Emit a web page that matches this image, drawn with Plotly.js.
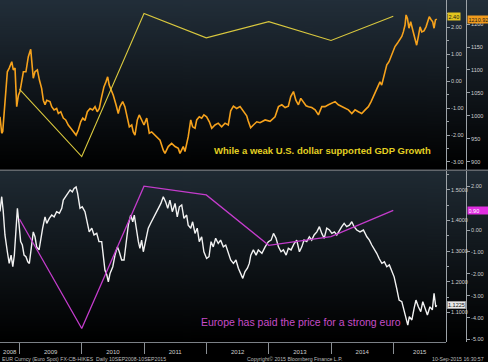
<!DOCTYPE html>
<html>
<head>
<meta charset="utf-8">
<script src="https://cdn.plot.ly/plotly-3.0.1.min.js"></script>
<style>html,body{margin:0;padding:0;background:#000;}#chart{width:488px;height:362px;}</style>
</head>
<body>
<div id="chart"></div>
<script>
// ---------- DATA ----------
// Bloomberg Dollar Spot Index (orange, top panel), time as decimal years
const dollarT = [2008.687,2008.714,2008.730,2008.767,2008.804,2008.836,2008.875,2008.900,2008.928,2008.955,
2008.981,2009.008,2009.035,2009.061,2009.104,2009.141,2009.180,2009.205,2009.221,2009.249,
2009.286,2009.318,2009.356,2009.382,2009.409,2009.437,2009.490,2009.517,2009.554,2009.597,
2009.623,2009.661,2009.703,2009.742,2009.783,2009.822,2009.864,2009.907,2009.944,2009.982,
2010.014,2010.051,2010.088,2010.132,2010.175,2010.212,2010.249,2010.281,2010.319,2010.356,
2010.388,2010.416,2010.441,2010.469,2010.506,2010.549,2010.586,2010.613,2010.657,2010.693,
2010.721,2010.762,2010.801,2010.827,2010.854,2010.891,2010.923,2010.961,2010.998,2011.042,
2011.083,2011.122,2011.202,2011.255,2011.308,2011.335,2011.388,2011.443,2011.496,2011.549,
2011.576,2011.629,2011.656,2011.709,2011.748,2011.780,2011.817,2011.844,2011.886,2011.925,
2011.961,2012.005,2012.047,2012.085,2012.138,2012.191,2012.245,2012.298,2012.351,2012.390,
2012.432,2012.486,2012.539,2012.592,2012.647,2012.668,2012.708,2012.753,2012.807,2012.860,
2012.940,2013.021,2013.101,2013.154,2013.209,2013.262,2013.315,2013.353,2013.395,2013.433,
2013.475,2013.513,2013.555,2013.599,2013.636,2013.690,2013.743,2013.796,2013.851,2013.904,
2013.957,2014.011,2014.064,2014.117,2014.172,2014.225,2014.278,2014.332,2014.385,2014.438,
2014.493,2014.546,2014.599,2014.642,2014.679,2014.722,2014.759,2014.786,2014.813,2014.851,
2014.894,2014.931,2014.974,2015.027,2015.064,2015.096,2015.135,2015.160,2015.188,2015.204,
2015.225,2015.252,2015.279,2015.311,2015.348,2015.375,2015.401,2015.428,2015.455,2015.492,
2015.524,2015.552,2015.578,2015.605,2015.632,2015.653,2015.674,2015.696];
const dollarV = [998,962,966,1034,1096,1104,1118,1100,1104,1020,
1045,1053,1078,1096,1096,1129,1145,1115,1082,1096,
1100,1078,1060,1034,1024,1034,1031,1020,1013,1016,
1005,1009,995,991,980,973,965,958,969,987,
995,990,1009,1016,1013,1020,1009,1016,1042,1063,
1074,1085,1067,1056,1045,1024,1005,1020,1031,1020,
1002,976,980,965,958,991,1002,991,980,995,
962,965,954,947,925,918,933,940,933,929,
918,933,922,954,991,976,973,991,998,995,
1002,998,987,973,980,984,976,984,980,1011,
1021,1016,1020,1009,1000,990,974,980,987,985,
991,988,998,1020,1024,1018,1021,1042,1053,1034,
1024,1038,1031,1022,1020,1018,1013,1002,1020,1020,
1024,1027,1031,1024,1020,1016,1013,1005,1013,1009,
1005,1013,1020,1031,1042,1056,1067,1074,1067,1089,
1111,1118,1133,1151,1158,1165,1173,1183,1198,1220,
1212,1191,1205,1187,1165,1154,1173,1194,1183,1185,
1194,1209,1216,1210,1205,1191,1209,1210.92];

// EUR/USD spot (white, bottom panel)
const eurT = [2008.687,2008.714,2008.740,2008.767,2008.804,2008.836,2008.864,2008.891,2008.917,2008.944,
2008.965,2008.992,2009.019,2009.045,2009.072,2009.104,2009.132,2009.157,2009.196,2009.221,
2009.249,2009.276,2009.313,2009.340,2009.372,2009.409,2009.437,2009.478,2009.517,2009.554,
2009.597,2009.639,2009.677,2009.703,2009.742,2009.774,2009.811,2009.847,2009.875,2009.907,
2009.934,2009.971,2010.008,2010.051,2010.088,2010.120,2010.159,2010.196,2010.239,2010.276,
2010.319,2010.345,2010.372,2010.400,2010.425,2010.453,2010.496,2010.533,2010.570,2010.602,
2010.640,2010.677,2010.709,2010.746,2010.785,2010.817,2010.843,2010.870,2010.907,2010.934,
2010.961,2010.987,2011.026,2011.067,2011.106,2011.148,2011.191,2011.228,2011.271,2011.308,
2011.347,2011.379,2011.416,2011.453,2011.496,2011.533,2011.565,2011.604,2011.640,2011.684,
2011.709,2011.748,2011.780,2011.817,2011.854,2011.886,2011.925,2011.961,2012.005,2012.042,
2012.074,2012.111,2012.149,2012.191,2012.229,2012.271,2012.310,2012.351,2012.390,2012.432,
2012.475,2012.512,2012.550,2012.583,2012.619,2012.656,2012.688,2012.711,2012.753,2012.796,
2012.833,2012.888,2012.940,2012.994,2013.037,2013.074,2013.117,2013.154,2013.197,2013.234,
2013.278,2013.315,2013.358,2013.406,2013.449,2013.491,2013.530,2013.567,2013.610,2013.652,
2013.690,2013.727,2013.770,2013.812,2013.851,2013.888,2013.931,2013.973,2014.011,2014.053,
2014.091,2014.133,2014.172,2014.209,2014.252,2014.294,2014.332,2014.369,2014.412,2014.465,
2014.518,2014.573,2014.615,2014.653,2014.690,2014.733,2014.770,2014.814,2014.856,2014.894,
2014.936,2014.974,2015.011,2015.054,2015.091,2015.135,2015.171,2015.204,2015.231,2015.257,
2015.296,2015.333,2015.364,2015.401,2015.440,2015.472,2015.509,2015.546,2015.589,2015.626,
2015.653,2015.680,2015.696];
const eurV = [1.43,1.478,1.43,1.353,1.298,1.26,1.287,1.249,1.287,1.385,
1.44,1.385,1.331,1.32,1.287,1.282,1.265,1.26,1.314,1.363,
1.347,1.314,1.304,1.342,1.375,1.412,1.391,1.407,1.418,1.412,
1.429,1.424,1.44,1.467,1.478,1.489,1.50,1.494,1.505,1.51,
1.489,1.44,1.445,1.429,1.385,1.363,1.375,1.353,1.358,1.331,
1.331,1.276,1.238,1.222,1.20,1.227,1.249,1.287,1.314,1.298,
1.271,1.271,1.331,1.385,1.418,1.396,1.418,1.375,1.331,1.309,
1.336,1.298,1.331,1.375,1.391,1.407,1.424,1.44,1.456,1.478,
1.461,1.44,1.467,1.429,1.456,1.412,1.445,1.451,1.407,1.418,
1.385,1.375,1.396,1.358,1.375,1.331,1.347,1.298,1.276,1.282,
1.331,1.314,1.342,1.325,1.336,1.314,1.32,1.293,1.271,1.26,
1.271,1.244,1.227,1.211,1.233,1.244,1.26,1.287,1.304,1.287,
1.304,1.293,1.314,1.331,1.336,1.358,1.342,1.314,1.298,1.304,
1.287,1.309,1.304,1.325,1.336,1.298,1.314,1.336,1.331,1.347,
1.336,1.353,1.363,1.38,1.358,1.342,1.375,1.369,1.358,1.363,
1.353,1.369,1.38,1.391,1.38,1.385,1.396,1.38,1.369,1.363,
1.369,1.347,1.336,1.32,1.309,1.293,1.276,1.26,1.265,1.249,
1.255,1.233,1.216,1.178,1.14,1.135,1.108,1.08,1.058,1.086,
1.075,1.113,1.14,1.118,1.102,1.135,1.113,1.091,1.118,1.108,
1.162,1.118,1.1225];

// Annual GDP growth (%), plotted at year end
const gdpDates = ['2008-12-31','2009-12-31','2010-12-31','2011-12-31','2012-12-31','2013-12-31','2014-12-31'];
const usGdp = [-0.3,-2.8,2.5,1.6,2.2,1.5,2.4];
const ezGdp = [0.5,-4.5,2.0,1.6,-0.7,-0.3,0.9];

// Tick labels
const yearLabels = ['2008','2009','2010','2011','2012','2013','2014','2015'];
const dollarTicks = [900,950,1000,1050,1100,1150,1200];
const usGdpTicks = [-3,-2,-1,0,1,2];
const eurTicks = [1.1,1.2,1.3,1.4,1.5];
const ezGdpTicks = [-5,-4,-3,-2,-1,0,2];

// Texts
const topCaption = 'While a weak U.S. dollar supported GDP Growth';
const bottomCaption = 'Europe has paid the price for a strong euro';
const footLeft = 'EUR Curncy (Euro Spot) FX-CB-HIKES  Daily 10SEP2008-10SEP2015';
const footMid = 'Copyright\u00A9 2015 Bloomberg Finance L.P.';
const footRight = '10-Sep-2015 16:30:57';

// ---------- helpers ----------
function toDate(y){
  const yr = Math.floor(y);
  const a = Date.UTC(yr,0,1), b = Date.UTC(yr+1,0,1);
  return new Date(a + (y-yr)*(b-a)).toISOString().slice(0,10);
}
function gradient(top, bottom){
  const c = document.createElement('canvas'); c.width = 4; c.height = 256;
  const g = c.getContext('2d'); const gr = g.createLinearGradient(0,0,0,256);
  gr.addColorStop(0, top); gr.addColorStop(1, bottom);
  g.fillStyle = gr; g.fillRect(0,0,4,256); return c.toDataURL('image/png');
}

const FONT = 'Liberation Sans, Arial, sans-serif';
const xRange = ['2008-09-08','2015-11-05'];
const startMs = Date.parse(xRange[0]), endMs = Date.parse(xRange[1]);
const labelPos = yearLabels.map(s => {
  const y = +s; const a = Math.max(Date.UTC(y,0,1), startMs), b = Math.min(Date.UTC(y+1,0,1), endMs);
  return new Date((a+b)/2).toISOString().slice(0,10);
});
const yearStarts = yearLabels.slice(1).map(s => s + '-01-01');
const quarters = [];
yearLabels.forEach(s => ['-04-01','-07-01','-10-01'].forEach(m => {
  const d = s + m; if (Date.parse(d) > startMs && Date.parse(d) < endMs) quarters.push(d);
}));

const W = 488, H = 362, PR = 466, INNER = 446, PB = 342;
const xDom = [0, INNER/PR];
const topDom = [(PB-169.5)/PB, 1];
const botDom = [0, (PB-171)/PB];

const tickFont = {family: FONT, size: 5.5, color: '#d2d2d2'};
const axisLine = '#9da3a8';

const traces = [
  {x: dollarT.map(toDate), y: dollarV, xaxis:'x', yaxis:'y', mode:'lines',
   line:{color:'#f6a21c', width:1.6}, hoverinfo:'skip'},
  {x: gdpDates, y: usGdp, xaxis:'x', yaxis:'y2', mode:'lines',
   line:{color:'#d8c73e', width:1.1}, hoverinfo:'skip'},
  {x: eurT.map(toDate), y: eurV, xaxis:'x2', yaxis:'y3', mode:'lines',
   line:{color:'#f2f2f2', width:1.4}, hoverinfo:'skip'},
  {x: gdpDates, y: ezGdp, xaxis:'x2', yaxis:'y4', mode:'lines',
   line:{color:'#c43ccc', width:1.3}, hoverinfo:'skip'}
];

function yAx(extra){
  return Object.assign({
    side:'right', anchor:'free', showgrid:false, zeroline:false, showline:true,
    linecolor:axisLine, linewidth:1, ticks:'outside', ticklen:3, tickwidth:1,
    tickcolor:axisLine, tickfont:tickFont, tickmode:'array', fixedrange:true
  }, extra);
}

const layout = {
  width:W, height:H, margin:{l:0, r:W-PR, t:0, b:H-PB, pad:0},
  paper_bgcolor:'#000', plot_bgcolor:'rgba(0,0,0,0)', showlegend:false,
  font:{family:FONT, color:'#d2d2d2'},
  xaxis:{domain:xDom, anchor:'y', type:'date', range:xRange, visible:false, fixedrange:true},
  xaxis2:{domain:xDom, anchor:'y3', type:'date', range:xRange, tickmode:'array',
    tickvals:labelPos, ticktext:yearLabels, ticks:'', showgrid:false, zeroline:false,
    showline:true, linecolor:'#7b8086', linewidth:1, tickfont:{family:FONT, size:6, color:'#cfcfcf'},
    ticklabelstandoff:4, fixedrange:true,
    minor:{tickmode:'array', tickvals:yearStarts, ticks:'outside', ticklen:11, tickwidth:1, tickcolor:'#8b9095', showgrid:false}},
  xaxis3:{overlaying:'x2', anchor:'y3', type:'date', range:xRange, tickmode:'array',
    tickvals:quarters, ticks:'outside', ticklen:3, tickwidth:1, tickcolor:'#8b9095',
    showticklabels:false, showgrid:false, zeroline:false, showline:false, fixedrange:true},
  yaxis: yAx({domain:topDom, position:1, range:[883,1252.5],
    tickvals:dollarTicks, ticktext:dollarTicks.map(String)}),
  yaxis2: yAx({overlaying:'y', position:xDom[1], range:[-3.278,3.0],
    tickvals:usGdpTicks, ticktext:usGdpTicks.map(v=>v.toFixed(2)),
    minor:{tickmode:'array', tickvals:usGdpTicks.map(v=>v+0.5), ticks:'outside', ticklen:2, tickcolor:axisLine}}),
  yaxis3: yAx({domain:botDom, position:xDom[1], range:[1.003,1.562],
    tickvals:eurTicks, ticktext:eurTicks.map(v=>v.toFixed(4)),
    minor:{tickmode:'array', tickvals:eurTicks.map(v=>+(v+0.05).toFixed(2)), ticks:'outside', ticklen:2, tickcolor:axisLine}}),
  yaxis4: yAx({overlaying:'y3', position:1, range:[-5.114,2.694],
    tickvals:ezGdpTicks, ticktext:ezGdpTicks.map(v=>v.toFixed(2))}),
  images:[
    {source:gradient('#222e39','#000000'), xref:'paper', yref:'paper', x:0, y:1,
     sizex:W/PR, sizey:topDom[1]-topDom[0], xanchor:'left', yanchor:'top', sizing:'stretch', layer:'below'},
    {source:gradient('#1f2a33','#000000'), xref:'paper', yref:'paper', x:0, y:botDom[1],
     sizex:W/PR, sizey:botDom[1]-botDom[0], xanchor:'left', yanchor:'top', sizing:'stretch', layer:'below'}
  ],
  shapes:[
    {type:'rect', xref:'paper', yref:'paper', x0:0, x1:W/PR, y0:botDom[1], y1:topDom[0],
     fillcolor:'#62676c', line:{width:0}, layer:'below'}
  ],
  annotations:[
    {xref:'paper', yref:'paper', x:322/PR, xanchor:'center', y:1-150/PB, yanchor:'middle',
     text:'<b>'+topCaption+'</b>', showarrow:false,
     font:{family:FONT, size:9.5, color:'#e2cf22'}},
    {xref:'paper', yref:'paper', x:301/PR, xanchor:'center', y:1-322/PB, yanchor:'middle',
     text:bottomCaption, showarrow:false,
     font:{family:FONT, size:10.5, color:'#c64cc8'}},
    {xref:'paper', yref:'y2', x:xDom[1], xanchor:'left', xshift:1, y:usGdp[usGdp.length-1], yanchor:'middle',
     text:usGdp[usGdp.length-1].toFixed(2), showarrow:false, bgcolor:'#e2c41e', borderpad:0.5,
     font:{family:FONT, size:5.5, color:'#1a1a1a'}},
    {xref:'paper', yref:'y', x:1, xanchor:'left', xshift:0.5, y:dollarV[dollarV.length-1], yanchor:'middle',
     text:dollarV[dollarV.length-1].toFixed(2), showarrow:false, bgcolor:'#f09a1c', borderpad:0.5,
     font:{family:FONT, size:5.5, color:'#1a1a1a'}},
    {xref:'paper', yref:'y4', x:1, xanchor:'left', xshift:0.5, y:ezGdp[ezGdp.length-1], yanchor:'middle',
     text:ezGdp[ezGdp.length-1].toFixed(2), showarrow:false, bgcolor:'#e02ee0', borderpad:0.5, width:20,
     align:'left', font:{family:FONT, size:5.5, color:'#ffffff'}},
    {xref:'paper', yref:'y3', x:xDom[1], xanchor:'left', xshift:1, y:eurV[eurV.length-1], yanchor:'middle',
     text:eurV[eurV.length-1].toFixed(4), showarrow:false, bgcolor:'#e9e9e9', bordercolor:'#8a8a8a',
     borderwidth:0.5, borderpad:0.5, font:{family:FONT, size:5.5, color:'#111'}},
    {xref:'paper', yref:'paper', x:0, xanchor:'left', y:(PB-358.5)/PB, yanchor:'middle',
     text:footLeft, showarrow:false, font:{family:FONT, size:5.2, color:'#bdbdbd'}},
    {xref:'paper', yref:'paper', x:294/PR, xanchor:'center', y:(PB-358.5)/PB, yanchor:'middle',
     text:footMid, showarrow:false, font:{family:FONT, size:5.2, color:'#bdbdbd'}},
    {xref:'paper', yref:'paper', x:486/PR, xanchor:'right', y:(PB-358.5)/PB, yanchor:'middle',
     text:footRight, showarrow:false, font:{family:FONT, size:5.2, color:'#bdbdbd'}}
  ]
};

Plotly.newPlot('chart', traces, layout, {staticPlot:true, displayModeBar:false});
</script>
</body>
</html>
